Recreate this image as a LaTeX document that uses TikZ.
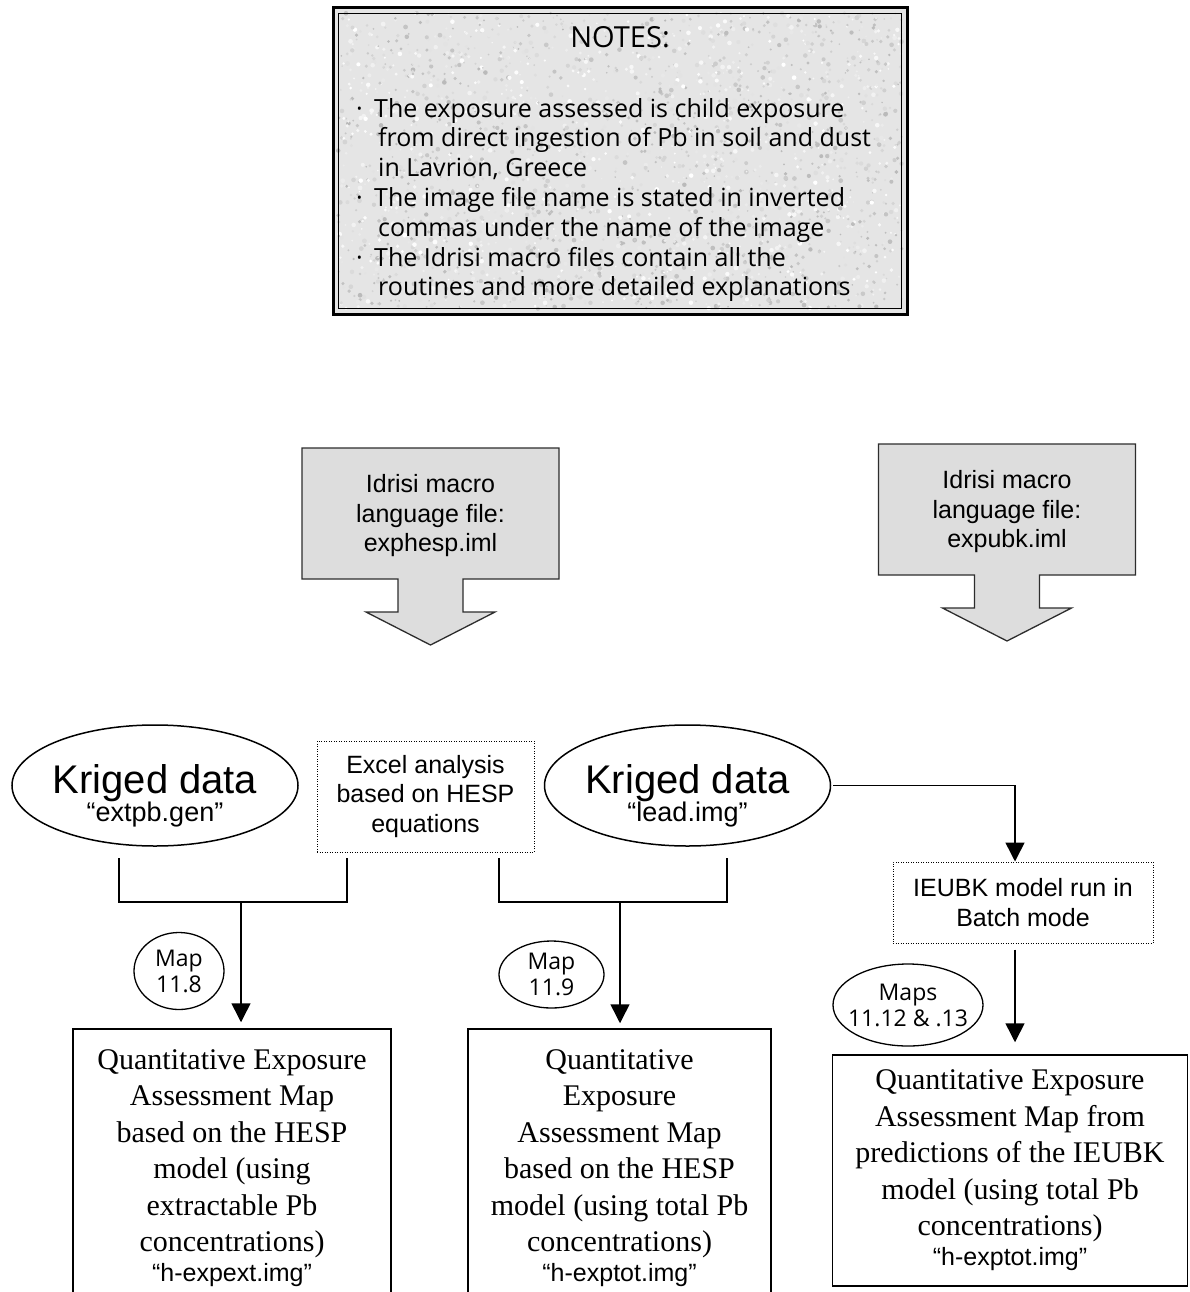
\documentclass[tikz,border=0pt]{standalone}
\usepackage{fontspec}
\setmainfont{Liberation Serif}
\setsansfont{Liberation Sans}
\newfontfamily\comicfont{Open Sans}
\usepackage{tikz}
\usetikzlibrary{shapes.geometric,arrows.meta}
\definecolor{arrowgrey}{RGB}{221,221,221}
\definecolor{arrowedge}{RGB}{45,45,45}
\definecolor{notepaper}{RGB}{229,229,229}
\tikzset{
  conn/.style={line width=1.5pt},
  feed/.style={conn,-{Triangle[width=19pt,length=19pt]}},
  krig/.style={draw,ellipse,line width=1.5pt,minimum width=286pt,minimum height=121pt,inner sep=0pt},
  mapno/.style={draw,ellipse,line width=1.3pt,inner sep=-8pt,align=center,
    font=\comicfont\fontsize{23}{26}\selectfont},
  calcbox/.style={draw,line width=1pt,dash pattern=on 1pt off 1.5pt,inner sep=0pt,align=center,
    font=\sffamily\fontsize{25}{29.5}\selectfont},
  mapbox/.style={draw,line width=1.5pt,inner sep=0pt,align=center,
    font=\fontsize{30}{36.5}\selectfont},
}
\newcommand{\imgname}[1]{\\[-6.5pt]{\sffamily\fontsize{25}{30}\selectfont “#1”}}
\newcommand{\blockarrow}[4]{
  \draw[line width=1.3pt,draw=arrowedge,fill=arrowgrey] (#1-128.5,#2)--++(257,0)--++(0,131)--++(-96,0)--++(0,33)--++(32,0)--++(-64.5,33)--++(-64.5,-33)--++(32,0)--++(0,-33)--++(-96,0)--cycle;
  \node[font=\sffamily\fontsize{25}{29.5}\selectfont,align=center] (#3) at (#1,#2+68) {#4};
}
\newcommand{\kriged}[4]{
  \node[krig] (#3) at (#1,#2) {};
  \node[font=\sffamily\fontsize{27}{28}\selectfont,align=center] (#3txt) at (#1,#2+10) {{\fontsize{40}{40}\selectfont Kriged data}\\“#4”};
}

\begin{document}
\begin{tikzpicture}[x=1pt,y=-1pt]
\useasboundingbox (0,0) rectangle (1190,1292);
\fill[white] (0,0) rectangle (1190,1292);

% notes panel with speckled paper
\fill[notepaper] (333,8) rectangle (907,314);
\pgfmathsetseed{17}
\foreach \i in {1,...,2600}{
  \pgfmathsetmacro{\sx}{338+564*rnd}
  \pgfmathsetmacro{\sy}{13+296*rnd}
  \pgfmathtruncatemacro{\sh}{28*rnd}
  \fill[black!\sh] (\sx,\sy) circle ({0.8+1.6*rnd});
}
\draw[line width=3pt] (333,8) rectangle (907,314);
\draw[line width=1pt] (338.5,13.5) rectangle (901.5,308.5);
\node[font=\comicfont\fontsize{29}{30}\selectfont] (notes) at (620,37) {NOTES:};
\node[anchor=north west,inner sep=0pt,align=left,font=\comicfont\fontsize{25}{29.8}\selectfont] (notetxt) at (356,98) {%
\makebox[18pt][l]{·}The exposure assessed is child exposure\\
\hspace*{22pt}from direct ingestion of Pb in soil and dust\\
\hspace*{22pt}in Lavrion, Greece\\
\makebox[18pt][l]{·}The image file name is stated in inverted\\
\hspace*{22pt}commas under the name of the image\\
\makebox[18pt][l]{·}The Idrisi macro files contain all the\\
\hspace*{22pt}routines and more detailed explanations};

\blockarrow{430.5}{448}{iml1}{Idrisi macro\\language file:\\exphesp.iml}
\blockarrow{1007}{444}{iml2}{Idrisi macro\\language file:\\expubk.iml}

\kriged{155}{785.5}{krig1}{extpb.gen}
\kriged{687.5}{785.5}{krig2}{lead.img}
\node[calcbox,minimum width=217pt,minimum height=111pt] (excel) at (425.5,796.5) {Excel analysis\\based on HESP\\equations};
\node[calcbox,minimum width=260pt,minimum height=81pt] (ieubk) at (1023,902.5) {IEUBK model run in\\Batch mode};

\node[mapbox,minimum width=318pt,minimum height=278pt] (hesp1) at (232,1168) {Quantitative Exposure\\Assessment Map\\based on the HESP\\model (using\\extractable Pb\\concentrations)\imgname{h-expext.img}};
\node[mapbox,minimum width=303pt,minimum height=278pt] (hesp2) at (619.5,1168) {Quantitative\\Exposure\\Assessment Map\\based on the HESP\\model (using total Pb\\concentrations)\imgname{h-exptot.img}};
\node[mapbox,minimum width=355pt,minimum height=231pt] (ieubkmap) at (1010,1170.5) {Quantitative Exposure\\Assessment Map from\\predictions of the IEUBK\\model (using total Pb\\concentrations)\imgname{h-exptot.img}};

\node[mapno,minimum width=90pt,minimum height=77pt] (map8) at (179,971) {Map\\11.8};
\node[mapno,minimum width=105pt,minimum height=67pt] (map9) at (551.5,974.5) {Map\\11.9};
\node[mapno,minimum width=150pt,minimum height=82pt] (map12) at (908,1005) {Maps\\11.12 \& .13};

% joins under the kriged data
\coordinate (f1l) at (119,858);
\coordinate (f1r) at (347,858);
\coordinate (f1) at (241,902);
\draw[conn] (f1l) |- (f1r |- f1) -- (f1r);
\draw[feed,shorten >=6pt] (f1) -- (f1 |- hesp1.north);
\coordinate (f2l) at (499,858);
\coordinate (f2r) at (727,858);
\coordinate (f2) at (620,902);
\draw[conn] (f2l) |- (f2r |- f2) -- (f2r);
\draw[feed,shorten >=5pt] (f2) -- (f2 |- hesp2.north);
\coordinate (f3) at (1015,0);
\draw[feed,shorten <=2pt] (krig2.east) -| (f3 |- ieubk.north);
\draw[feed,shorten <=6pt,shorten >=12pt] (f3 |- ieubk.south) -- (f3 |- ieubkmap.north);
\end{tikzpicture}
\end{document}
